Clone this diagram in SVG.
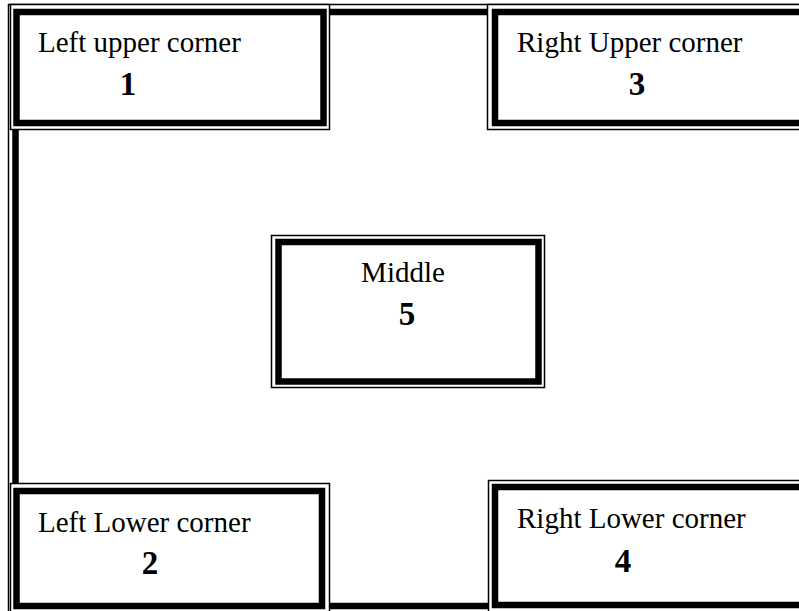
<svg xmlns="http://www.w3.org/2000/svg" width="799" height="611" viewBox="0 0 799 611">
<style>
.thin{fill:none;stroke:#000;stroke-width:1.5}
.thick{fill:#fff;stroke:#000;stroke-width:6.5}
.bg{fill:#fff}
.lbl{font-family:"Liberation Serif","Times New Roman",serif;font-size:29px;fill:#000}
.num{font-family:"Liberation Serif","Times New Roman",serif;font-size:33px;font-weight:bold;fill:#000;text-anchor:middle}
</style>
<rect width="799" height="611" fill="#fff"/>
<g id="connectors">
<rect class="thin" x="8.5" y="4.5" width="830" height="640"/>
<rect class="thick" x="15.5" y="12" width="820" height="594" fill="none" style="fill:none"/>
</g>
<g id="node1">
<rect class="thin bg" x="10.5" y="4.5" width="319" height="125"/>
<rect class="thick" x="16.5" y="12" width="307" height="111"/>
<text class="lbl" x="38" y="52">Left upper corner</text>
<text class="num" x="128" y="95">1</text>
</g>
<g id="node3">
<rect class="thin bg" x="487.5" y="4.5" width="340" height="125"/>
<rect class="thick" x="495" y="12" width="330" height="111"/>
<text class="lbl" x="517" y="52">Right Upper corner</text>
<text class="num" x="637" y="95">3</text>
</g>
<g id="node2">
<rect class="thin bg" x="10.5" y="483.5" width="319" height="140"/>
<rect class="thick" x="16.5" y="491" width="305.5" height="115"/>
<text class="lbl" x="38" y="532">Left Lower corner</text>
<text class="num" x="150" y="574">2</text>
</g>
<g id="node4">
<rect class="thin bg" x="488.5" y="480.5" width="340" height="140"/>
<rect class="thick" x="495" y="487" width="330" height="118"/>
<text class="lbl" x="517" y="528">Right Lower corner</text>
<text class="num" x="623" y="572">4</text>
</g>
<g id="node5">
<rect class="thin bg" x="271.5" y="235.5" width="273" height="152"/>
<rect class="thick" x="278.5" y="242" width="260" height="139.5"/>
<text class="lbl" x="403" y="282" text-anchor="middle">Middle</text>
<text class="num" x="407" y="325">5</text>
</g>
</svg>
